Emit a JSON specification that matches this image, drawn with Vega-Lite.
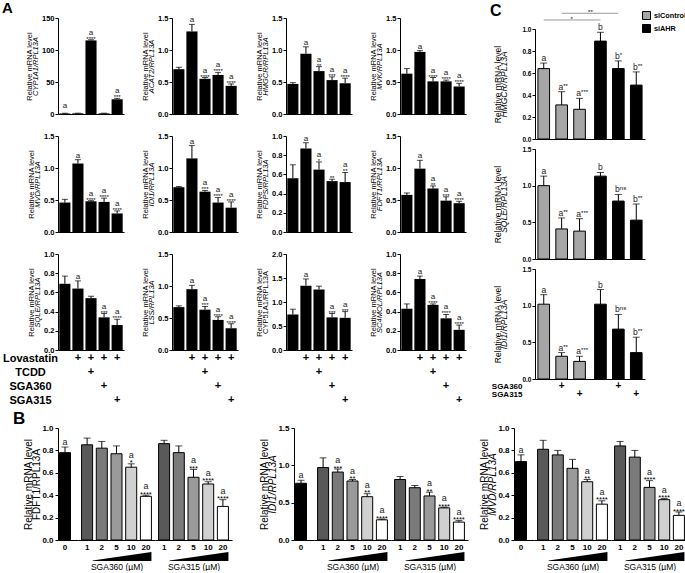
{
"$schema":"https://vega.github.io/schema/vega-lite/v6.json",
"autosize":{"type":"pad"},
"padding":{"left":2,"top":1,"right":0,"bottom":0},
"background":"white",
"config":{
 "font":"Liberation Sans",
 "view":{"stroke":null},
 "axis":{"grid":false,"domainColor":"#000","tickColor":"#000","labelColor":"#000","titleColor":"#000","labelFontWeight":"bold","titleFontWeight":"normal","tickSize":3,"labelPadding":1,"domainWidth":1,"tickWidth":1},
 "tick":{"thickness":1,"color":"#000"},
 "rule":{"color":"#000"},
 "text":{"color":"#000","fill":"#000"},
 "title":{"fontWeight":"bold","anchor":"start","frame":"group","color":"#000"}
},
"resolve":{"scale":{"color":"independent"}},
"spacing":2,
"vconcat":[
{"hconcat":[
 {"concat":[
    {"width":66,"height":96,"title":{"text":"A","fontSize":15,"dx":-56,"offset":-2},
     "data":{"values":[{"k":"c1","v":0.8,"hi":1.2,"l":"a","st":""},{"k":"c2","v":1,"hi":1.3,"l":"","st":""},{"k":"c3","v":115,"hi":116,"l":"a","st":"****"},{"k":"c4","v":1,"hi":1.3,"l":"","st":""},{"k":"c5","v":23,"hi":24.5,"l":"a","st":"***"}]},
     "encoding":{"x":{"field":"k","type":"nominal","scale":{"type":"band","domain":["c1","c2","c3","c4","c5"],"paddingInner":0.15,"paddingOuter":0.1},"axis":{"labels":false,"ticks":false,"title":null}}},
     "layer":[
      {"mark":{"type":"bar","color":"#000"},"encoding":{"y":{"field":"v","type":"quantitative","scale":{"domain":[0,150],"nice":false},"axis":{"orient":"left","title":"Relative mRNA level","values":[0,50,100,150],"format":"d","labelFontSize":7.5,"titleFontSize":7.5,"titlePadding":8}}}},
      {"mark":"rule","encoding":{"y":{"field":"v","type":"quantitative","axis":{"orient":"left","title":"CYP1A1/RPL13A","values":[0,50,100,150],"format":"d","labelFontSize":7.5,"labelColor":"transparent","tickColor":"transparent","domain":false,"titleFontSize":7.5,"titleFontStyle":"italic","titlePadding":2}},"y2":{"field":"hi"}}},
      {"mark":{"type":"tick","size":6},"encoding":{"y":{"field":"hi","type":"quantitative","axis":null}}},
      {"transform":[{"filter":"datum.st != ''"}],"mark":{"type":"text","color":"#000","fontSize":6,"baseline":"alphabetic","dy":1},"encoding":{"y":{"field":"hi","type":"quantitative","axis":null},"text":{"field":"st"}}},
      {"transform":[{"filter":"datum.l != '' && datum.st != ''"}],"mark":{"type":"text","color":"#222","fontSize":8,"baseline":"alphabetic","dy":-5},"encoding":{"y":{"field":"hi","type":"quantitative","axis":null},"text":{"field":"l"}}},
      {"transform":[{"filter":"datum.l != '' && datum.st == ''"}],"mark":{"type":"text","color":"#222","fontSize":8,"baseline":"alphabetic","dy":-5},"encoding":{"y":{"field":"hi","type":"quantitative","axis":null},"text":{"field":"l"}}}
     ],"resolve":{"axis":{"y":"independent"}}},
    {"width":66,"height":96,
     "data":{"values":[{"k":"c1","v":0.70,"hi":0.73,"l":"","st":""},{"k":"c2","v":1.29,"hi":1.40,"l":"a","st":""},{"k":"c3","v":0.55,"hi":0.57,"l":"a","st":"****"},{"k":"c4","v":0.61,"hi":0.65,"l":"a","st":"****"},{"k":"c5","v":0.44,"hi":0.47,"l":"a","st":"****"}]},
     "encoding":{"x":{"field":"k","type":"nominal","scale":{"type":"band","domain":["c1","c2","c3","c4","c5"],"paddingInner":0.15,"paddingOuter":0.1},"axis":{"labels":false,"ticks":false,"title":null}}},
     "layer":[
      {"mark":{"type":"bar","color":"#000"},"encoding":{"y":{"field":"v","type":"quantitative","scale":{"domain":[0,1.5],"nice":false},"axis":{"orient":"left","title":"Relative mRNA level","values":[0,0.5,1,1.5],"format":".1f","labelFontSize":7.5,"titleFontSize":7.5,"titlePadding":8}}}},
      {"mark":"rule","encoding":{"y":{"field":"v","type":"quantitative","axis":{"orient":"left","title":"ACAT2/RPL13A","values":[0,0.5,1,1.5],"format":".1f","labelFontSize":7.5,"labelColor":"transparent","tickColor":"transparent","domain":false,"titleFontSize":7.5,"titleFontStyle":"italic","titlePadding":2}},"y2":{"field":"hi"}}},
      {"mark":{"type":"tick","size":6},"encoding":{"y":{"field":"hi","type":"quantitative","axis":null}}},
      {"transform":[{"filter":"datum.st != ''"}],"mark":{"type":"text","color":"#000","fontSize":6,"baseline":"alphabetic","dy":1},"encoding":{"y":{"field":"hi","type":"quantitative","axis":null},"text":{"field":"st"}}},
      {"transform":[{"filter":"datum.l != '' && datum.st != ''"}],"mark":{"type":"text","color":"#222","fontSize":8,"baseline":"alphabetic","dy":-5},"encoding":{"y":{"field":"hi","type":"quantitative","axis":null},"text":{"field":"l"}}},
      {"transform":[{"filter":"datum.l != '' && datum.st == ''"}],"mark":{"type":"text","color":"#222","fontSize":8,"baseline":"alphabetic","dy":-2},"encoding":{"y":{"field":"hi","type":"quantitative","axis":null},"text":{"field":"l"}}}
     ],"resolve":{"axis":{"y":"independent"}}},
    {"width":66,"height":96,
     "data":{"values":[{"k":"c1","v":0.47,"hi":0.49,"l":"","st":""},{"k":"c2","v":0.94,"hi":1.05,"l":"a","st":""},{"k":"c3","v":0.67,"hi":0.74,"l":"a","st":"**"},{"k":"c4","v":0.53,"hi":0.58,"l":"a","st":"***"},{"k":"c5","v":0.48,"hi":0.56,"l":"a","st":"****"}]},
     "encoding":{"x":{"field":"k","type":"nominal","scale":{"type":"band","domain":["c1","c2","c3","c4","c5"],"paddingInner":0.15,"paddingOuter":0.1},"axis":{"labels":false,"ticks":false,"title":null}}},
     "layer":[
      {"mark":{"type":"bar","color":"#000"},"encoding":{"y":{"field":"v","type":"quantitative","scale":{"domain":[0,1.5],"nice":false},"axis":{"orient":"left","title":"Relative mRNA level","values":[0,0.5,1,1.5],"format":".1f","labelFontSize":7.5,"titleFontSize":7.5,"titlePadding":8}}}},
      {"mark":"rule","encoding":{"y":{"field":"v","type":"quantitative","axis":{"orient":"left","title":"HMGCR/RPL13A","values":[0,0.5,1,1.5],"format":".1f","labelFontSize":7.5,"labelColor":"transparent","tickColor":"transparent","domain":false,"titleFontSize":7.5,"titleFontStyle":"italic","titlePadding":2}},"y2":{"field":"hi"}}},
      {"mark":{"type":"tick","size":6},"encoding":{"y":{"field":"hi","type":"quantitative","axis":null}}},
      {"transform":[{"filter":"datum.st != ''"}],"mark":{"type":"text","color":"#000","fontSize":6,"baseline":"alphabetic","dy":1},"encoding":{"y":{"field":"hi","type":"quantitative","axis":null},"text":{"field":"st"}}},
      {"transform":[{"filter":"datum.l != '' && datum.st != ''"}],"mark":{"type":"text","color":"#222","fontSize":8,"baseline":"alphabetic","dy":-5},"encoding":{"y":{"field":"hi","type":"quantitative","axis":null},"text":{"field":"l"}}},
      {"transform":[{"filter":"datum.l != '' && datum.st == ''"}],"mark":{"type":"text","color":"#222","fontSize":8,"baseline":"alphabetic","dy":-2},"encoding":{"y":{"field":"hi","type":"quantitative","axis":null},"text":{"field":"l"}}}
     ],"resolve":{"axis":{"y":"independent"}}},
    {"width":66,"height":96,
     "data":{"values":[{"k":"c1","v":0.63,"hi":0.71,"l":"","st":""},{"k":"c2","v":0.97,"hi":0.99,"l":"a","st":""},{"k":"c3","v":0.51,"hi":0.57,"l":"a","st":"****"},{"k":"c4","v":0.51,"hi":0.53,"l":"a","st":"****"},{"k":"c5","v":0.43,"hi":0.48,"l":"a","st":"****"}]},
     "encoding":{"x":{"field":"k","type":"nominal","scale":{"type":"band","domain":["c1","c2","c3","c4","c5"],"paddingInner":0.15,"paddingOuter":0.1},"axis":{"labels":false,"ticks":false,"title":null}}},
     "layer":[
      {"mark":{"type":"bar","color":"#000"},"encoding":{"y":{"field":"v","type":"quantitative","scale":{"domain":[0,1.5],"nice":false},"axis":{"orient":"left","title":"Relative mRNA level","values":[0,0.5,1,1.5],"format":".1f","labelFontSize":7.5,"titleFontSize":7.5,"titlePadding":8}}}},
      {"mark":"rule","encoding":{"y":{"field":"v","type":"quantitative","axis":{"orient":"left","title":"MVK/RPL13A","values":[0,0.5,1,1.5],"format":".1f","labelFontSize":7.5,"labelColor":"transparent","tickColor":"transparent","domain":false,"titleFontSize":7.5,"titleFontStyle":"italic","titlePadding":2}},"y2":{"field":"hi"}}},
      {"mark":{"type":"tick","size":6},"encoding":{"y":{"field":"hi","type":"quantitative","axis":null}}},
      {"transform":[{"filter":"datum.st != ''"}],"mark":{"type":"text","color":"#000","fontSize":6,"baseline":"alphabetic","dy":1},"encoding":{"y":{"field":"hi","type":"quantitative","axis":null},"text":{"field":"st"}}},
      {"transform":[{"filter":"datum.l != '' && datum.st != ''"}],"mark":{"type":"text","color":"#222","fontSize":8,"baseline":"alphabetic","dy":-5},"encoding":{"y":{"field":"hi","type":"quantitative","axis":null},"text":{"field":"l"}}},
      {"transform":[{"filter":"datum.l != '' && datum.st == ''"}],"mark":{"type":"text","color":"#222","fontSize":8,"baseline":"alphabetic","dy":-2},"encoding":{"y":{"field":"hi","type":"quantitative","axis":null},"text":{"field":"l"}}}
     ],"resolve":{"axis":{"y":"independent"}}},
    {"width":66,"height":20,"data":{"values":[]},"mark":"point"},
    {"width":66,"height":20,"data":{"values":[]},"mark":"point"},
    {"width":66,"height":20,"data":{"values":[]},"mark":"point"},
    {"width":66,"height":20,"data":{"values":[]},"mark":"point"},
    {"width":66,"height":96,
     "data":{"values":[{"k":"c1","v":0.46,"hi":0.51,"l":"","st":""},{"k":"c2","v":1.07,"hi":1.13,"l":"a","st":""},{"k":"c3","v":0.48,"hi":0.49,"l":"a","st":"****"},{"k":"c4","v":0.47,"hi":0.53,"l":"a","st":"****"},{"k":"c5","v":0.29,"hi":0.33,"l":"a","st":"****"}]},
     "encoding":{"x":{"field":"k","type":"nominal","scale":{"type":"band","domain":["c1","c2","c3","c4","c5"],"paddingInner":0.15,"paddingOuter":0.1},"axis":{"labels":false,"ticks":false,"title":null}}},
     "layer":[
      {"mark":{"type":"bar","color":"#000"},"encoding":{"y":{"field":"v","type":"quantitative","scale":{"domain":[0,1.5],"nice":false},"axis":{"orient":"left","title":"Relative mRNA level","values":[0,0.5,1,1.5],"format":".1f","labelFontSize":7.5,"titleFontSize":7.5,"titlePadding":8}}}},
      {"mark":"rule","encoding":{"y":{"field":"v","type":"quantitative","axis":{"orient":"left","title":"MVD/RPL13A","values":[0,0.5,1,1.5],"format":".1f","labelFontSize":7.5,"labelColor":"transparent","tickColor":"transparent","domain":false,"titleFontSize":7.5,"titleFontStyle":"italic","titlePadding":2}},"y2":{"field":"hi"}}},
      {"mark":{"type":"tick","size":6},"encoding":{"y":{"field":"hi","type":"quantitative","axis":null}}},
      {"transform":[{"filter":"datum.st != ''"}],"mark":{"type":"text","color":"#000","fontSize":6,"baseline":"alphabetic","dy":1},"encoding":{"y":{"field":"hi","type":"quantitative","axis":null},"text":{"field":"st"}}},
      {"transform":[{"filter":"datum.l != '' && datum.st != ''"}],"mark":{"type":"text","color":"#222","fontSize":8,"baseline":"alphabetic","dy":-5},"encoding":{"y":{"field":"hi","type":"quantitative","axis":null},"text":{"field":"l"}}},
      {"transform":[{"filter":"datum.l != '' && datum.st == ''"}],"mark":{"type":"text","color":"#222","fontSize":8,"baseline":"alphabetic","dy":-2},"encoding":{"y":{"field":"hi","type":"quantitative","axis":null},"text":{"field":"l"}}}
     ],"resolve":{"axis":{"y":"independent"}}},
    {"width":66,"height":96,
     "data":{"values":[{"k":"c1","v":0.70,"hi":0.71,"l":"","st":""},{"k":"c2","v":1.15,"hi":1.35,"l":"a","st":""},{"k":"c3","v":0.63,"hi":0.65,"l":"a","st":"***"},{"k":"c4","v":0.46,"hi":0.54,"l":"a","st":"****"},{"k":"c5","v":0.38,"hi":0.47,"l":"a","st":"****"}]},
     "encoding":{"x":{"field":"k","type":"nominal","scale":{"type":"band","domain":["c1","c2","c3","c4","c5"],"paddingInner":0.15,"paddingOuter":0.1},"axis":{"labels":false,"ticks":false,"title":null}}},
     "layer":[
      {"mark":{"type":"bar","color":"#000"},"encoding":{"y":{"field":"v","type":"quantitative","scale":{"domain":[0,1.5],"nice":false},"axis":{"orient":"left","title":"Relative mRNA level","values":[0,0.5,1,1.5],"format":".1f","labelFontSize":7.5,"titleFontSize":7.5,"titlePadding":8}}}},
      {"mark":"rule","encoding":{"y":{"field":"v","type":"quantitative","axis":{"orient":"left","title":"IDI1/RPL13A","values":[0,0.5,1,1.5],"format":".1f","labelFontSize":7.5,"labelColor":"transparent","tickColor":"transparent","domain":false,"titleFontSize":7.5,"titleFontStyle":"italic","titlePadding":2}},"y2":{"field":"hi"}}},
      {"mark":{"type":"tick","size":6},"encoding":{"y":{"field":"hi","type":"quantitative","axis":null}}},
      {"transform":[{"filter":"datum.st != ''"}],"mark":{"type":"text","color":"#000","fontSize":6,"baseline":"alphabetic","dy":1},"encoding":{"y":{"field":"hi","type":"quantitative","axis":null},"text":{"field":"st"}}},
      {"transform":[{"filter":"datum.l != '' && datum.st != ''"}],"mark":{"type":"text","color":"#222","fontSize":8,"baseline":"alphabetic","dy":-5},"encoding":{"y":{"field":"hi","type":"quantitative","axis":null},"text":{"field":"l"}}},
      {"transform":[{"filter":"datum.l != '' && datum.st == ''"}],"mark":{"type":"text","color":"#222","fontSize":8,"baseline":"alphabetic","dy":-2},"encoding":{"y":{"field":"hi","type":"quantitative","axis":null},"text":{"field":"l"}}}
     ],"resolve":{"axis":{"y":"independent"}}},
    {"width":66,"height":96,
     "data":{"values":[{"k":"c1","v":0.56,"hi":0.70,"l":"","st":""},{"k":"c2","v":0.87,"hi":0.93,"l":"a","st":""},{"k":"c3","v":0.65,"hi":0.73,"l":"a","st":"*"},{"k":"c4","v":0.53,"hi":0.55,"l":"","st":"**"},{"k":"c5","v":0.52,"hi":0.62,"l":"a","st":"**"}]},
     "encoding":{"x":{"field":"k","type":"nominal","scale":{"type":"band","domain":["c1","c2","c3","c4","c5"],"paddingInner":0.15,"paddingOuter":0.1},"axis":{"labels":false,"ticks":false,"title":null}}},
     "layer":[
      {"mark":{"type":"bar","color":"#000"},"encoding":{"y":{"field":"v","type":"quantitative","scale":{"domain":[0,1],"nice":false},"axis":{"orient":"left","title":"Relative mRNA level","values":[0,0.2,0.4,0.6,0.8,1],"format":".1f","labelFontSize":7.5,"titleFontSize":7.5,"titlePadding":8}}}},
      {"mark":"rule","encoding":{"y":{"field":"v","type":"quantitative","axis":{"orient":"left","title":"FDPS/RPL13A","values":[0,0.2,0.4,0.6,0.8,1],"format":".1f","labelFontSize":7.5,"labelColor":"transparent","tickColor":"transparent","domain":false,"titleFontSize":7.5,"titleFontStyle":"italic","titlePadding":2}},"y2":{"field":"hi"}}},
      {"mark":{"type":"tick","size":6},"encoding":{"y":{"field":"hi","type":"quantitative","axis":null}}},
      {"transform":[{"filter":"datum.st != ''"}],"mark":{"type":"text","color":"#000","fontSize":6,"baseline":"alphabetic","dy":1},"encoding":{"y":{"field":"hi","type":"quantitative","axis":null},"text":{"field":"st"}}},
      {"transform":[{"filter":"datum.l != '' && datum.st != ''"}],"mark":{"type":"text","color":"#222","fontSize":8,"baseline":"alphabetic","dy":-5},"encoding":{"y":{"field":"hi","type":"quantitative","axis":null},"text":{"field":"l"}}},
      {"transform":[{"filter":"datum.l != '' && datum.st == ''"}],"mark":{"type":"text","color":"#222","fontSize":8,"baseline":"alphabetic","dy":-2},"encoding":{"y":{"field":"hi","type":"quantitative","axis":null},"text":{"field":"l"}}}
     ],"resolve":{"axis":{"y":"independent"}}},
    {"width":66,"height":96,
     "data":{"values":[{"k":"c1","v":0.58,"hi":0.61,"l":"","st":""},{"k":"c2","v":0.99,"hi":1.12,"l":"a","st":""},{"k":"c3","v":0.68,"hi":0.72,"l":"a","st":"**"},{"k":"c4","v":0.49,"hi":0.55,"l":"a","st":"***"},{"k":"c5","v":0.45,"hi":0.48,"l":"a","st":"****"}]},
     "encoding":{"x":{"field":"k","type":"nominal","scale":{"type":"band","domain":["c1","c2","c3","c4","c5"],"paddingInner":0.15,"paddingOuter":0.1},"axis":{"labels":false,"ticks":false,"title":null}}},
     "layer":[
      {"mark":{"type":"bar","color":"#000"},"encoding":{"y":{"field":"v","type":"quantitative","scale":{"domain":[0,1.5],"nice":false},"axis":{"orient":"left","title":"Relative mRNA level","values":[0,0.5,1,1.5],"format":".1f","labelFontSize":7.5,"titleFontSize":7.5,"titlePadding":8}}}},
      {"mark":"rule","encoding":{"y":{"field":"v","type":"quantitative","axis":{"orient":"left","title":"FDFT1/RPL13A","values":[0,0.5,1,1.5],"format":".1f","labelFontSize":7.5,"labelColor":"transparent","tickColor":"transparent","domain":false,"titleFontSize":7.5,"titleFontStyle":"italic","titlePadding":2}},"y2":{"field":"hi"}}},
      {"mark":{"type":"tick","size":6},"encoding":{"y":{"field":"hi","type":"quantitative","axis":null}}},
      {"transform":[{"filter":"datum.st != ''"}],"mark":{"type":"text","color":"#000","fontSize":6,"baseline":"alphabetic","dy":1},"encoding":{"y":{"field":"hi","type":"quantitative","axis":null},"text":{"field":"st"}}},
      {"transform":[{"filter":"datum.l != '' && datum.st != ''"}],"mark":{"type":"text","color":"#222","fontSize":8,"baseline":"alphabetic","dy":-5},"encoding":{"y":{"field":"hi","type":"quantitative","axis":null},"text":{"field":"l"}}},
      {"transform":[{"filter":"datum.l != '' && datum.st == ''"}],"mark":{"type":"text","color":"#222","fontSize":8,"baseline":"alphabetic","dy":-2},"encoding":{"y":{"field":"hi","type":"quantitative","axis":null},"text":{"field":"l"}}}
     ],"resolve":{"axis":{"y":"independent"}}},
    {"width":66,"height":20,"data":{"values":[]},"mark":"point"},
    {"width":66,"height":20,"data":{"values":[]},"mark":"point"},
    {"width":66,"height":20,"data":{"values":[]},"mark":"point"},
    {"width":66,"height":20,"data":{"values":[]},"mark":"point"},
     {"width":66,"height":96,
      "data":{"values":[{"k":"c1","v":0.69,"hi":0.77,"l":"","st":""},{"k":"c2","v":0.64,"hi":0.72,"l":"a","st":""},{"k":"c3","v":0.54,"hi":0.56,"l":"","st":""},{"k":"c4","v":0.34,"hi":0.38,"l":"a","st":"***"},{"k":"c5","v":0.26,"hi":0.32,"l":"a","st":"****"}]},
      "encoding":{"x":{"field":"k","type":"nominal","scale":{"type":"band","domain":["c1","c2","c3","c4","c5"],"paddingInner":0.15,"paddingOuter":0.1},"axis":{"labels":false,"ticks":false,"title":null}}},
      "layer":[
       {"mark":{"type":"bar","color":"#000"},"encoding":{"y":{"field":"v","type":"quantitative","scale":{"domain":[0,1],"nice":false},"axis":{"orient":"left","title":"Relative mRNA level","values":[0,0.2,0.4,0.6,0.8,1],"format":".1f","labelFontSize":7.5,"titleFontSize":7.5,"titlePadding":8}}}},
       {"mark":"rule","encoding":{"y":{"field":"v","type":"quantitative","axis":{"orient":"left","title":"SQLE/RPL13A","values":[0,0.2,0.4,0.6,0.8,1],"format":".1f","labelFontSize":7.5,"labelColor":"transparent","tickColor":"transparent","domain":false,"titleFontSize":7.5,"titleFontStyle":"italic","titlePadding":2}},"y2":{"field":"hi"}}},
       {"mark":{"type":"tick","size":6},"encoding":{"y":{"field":"hi","type":"quantitative","axis":null}}},
       {"transform":[{"filter":"datum.st != ''"}],"mark":{"type":"text","color":"#000","fontSize":6,"baseline":"alphabetic","dy":1},"encoding":{"y":{"field":"hi","type":"quantitative","axis":null},"text":{"field":"st"}}},
       {"transform":[{"filter":"datum.l != '' && datum.st != ''"}],"mark":{"type":"text","color":"#222","fontSize":8,"baseline":"alphabetic","dy":-5},"encoding":{"y":{"field":"hi","type":"quantitative","axis":null},"text":{"field":"l"}}},
       {"transform":[{"filter":"datum.l != '' && datum.st == ''"}],"mark":{"type":"text","color":"#222","fontSize":8,"baseline":"alphabetic","dy":-2},"encoding":{"y":{"field":"hi","type":"quantitative","axis":null},"text":{"field":"l"}}}
      ],"resolve":{"axis":{"y":"independent"}}},
     {"width":66,"height":96,
      "data":{"values":[{"k":"c1","v":0.67,"hi":0.69,"l":"","st":""},{"k":"c2","v":0.95,"hi":1.01,"l":"a","st":""},{"k":"c3","v":0.63,"hi":0.68,"l":"a","st":"***"},{"k":"c4","v":0.47,"hi":0.52,"l":"a","st":"****"},{"k":"c5","v":0.34,"hi":0.41,"l":"a","st":"****"}]},
      "encoding":{"x":{"field":"k","type":"nominal","scale":{"type":"band","domain":["c1","c2","c3","c4","c5"],"paddingInner":0.15,"paddingOuter":0.1},"axis":{"labels":false,"ticks":false,"title":null}}},
      "layer":[
       {"mark":{"type":"bar","color":"#000"},"encoding":{"y":{"field":"v","type":"quantitative","scale":{"domain":[0,1.5],"nice":false},"axis":{"orient":"left","title":"Relative mRNA level","values":[0,0.5,1,1.5],"format":".1f","labelFontSize":7.5,"titleFontSize":7.5,"titlePadding":8}}}},
       {"mark":"rule","encoding":{"y":{"field":"v","type":"quantitative","axis":{"orient":"left","title":"LSS/RPL13A","values":[0,0.5,1,1.5],"format":".1f","labelFontSize":7.5,"labelColor":"transparent","tickColor":"transparent","domain":false,"titleFontSize":7.5,"titleFontStyle":"italic","titlePadding":2}},"y2":{"field":"hi"}}},
       {"mark":{"type":"tick","size":6},"encoding":{"y":{"field":"hi","type":"quantitative","axis":null}}},
       {"transform":[{"filter":"datum.st != ''"}],"mark":{"type":"text","color":"#000","fontSize":6,"baseline":"alphabetic","dy":1},"encoding":{"y":{"field":"hi","type":"quantitative","axis":null},"text":{"field":"st"}}},
       {"transform":[{"filter":"datum.l != '' && datum.st != ''"}],"mark":{"type":"text","color":"#222","fontSize":8,"baseline":"alphabetic","dy":-5},"encoding":{"y":{"field":"hi","type":"quantitative","axis":null},"text":{"field":"l"}}},
       {"transform":[{"filter":"datum.l != '' && datum.st == ''"}],"mark":{"type":"text","color":"#222","fontSize":8,"baseline":"alphabetic","dy":-2},"encoding":{"y":{"field":"hi","type":"quantitative","axis":null},"text":{"field":"l"}}}
      ],"resolve":{"axis":{"y":"independent"}}},
     {"width":66,"height":96,
      "data":{"values":[{"k":"c1","v":0.74,"hi":0.85,"l":"","st":""},{"k":"c2","v":1.34,"hi":1.48,"l":"a","st":""},{"k":"c3","v":1.26,"hi":1.33,"l":"","st":""},{"k":"c4","v":0.68,"hi":0.76,"l":"a","st":"***"},{"k":"c5","v":0.67,"hi":0.80,"l":"a","st":"***"}]},
      "encoding":{"x":{"field":"k","type":"nominal","scale":{"type":"band","domain":["c1","c2","c3","c4","c5"],"paddingInner":0.15,"paddingOuter":0.1},"axis":{"labels":false,"ticks":false,"title":null}}},
      "layer":[
       {"mark":{"type":"bar","color":"#000"},"encoding":{"y":{"field":"v","type":"quantitative","scale":{"domain":[0,2],"nice":false},"axis":{"orient":"left","title":"Relative mRNA level","values":[0,0.5,1,1.5,2],"format":".1f","labelFontSize":7.5,"titleFontSize":7.5,"titlePadding":8}}}},
       {"mark":"rule","encoding":{"y":{"field":"v","type":"quantitative","axis":{"orient":"left","title":"CYP51A1/RPL13A","values":[0,0.5,1,1.5,2],"format":".1f","labelFontSize":7.5,"labelColor":"transparent","tickColor":"transparent","domain":false,"titleFontSize":7.5,"titleFontStyle":"normal","titlePadding":2}},"y2":{"field":"hi"}}},
       {"mark":{"type":"tick","size":6},"encoding":{"y":{"field":"hi","type":"quantitative","axis":null}}},
       {"transform":[{"filter":"datum.st != ''"}],"mark":{"type":"text","color":"#000","fontSize":6,"baseline":"alphabetic","dy":1},"encoding":{"y":{"field":"hi","type":"quantitative","axis":null},"text":{"field":"st"}}},
       {"transform":[{"filter":"datum.l != '' && datum.st != ''"}],"mark":{"type":"text","color":"#222","fontSize":8,"baseline":"alphabetic","dy":-5},"encoding":{"y":{"field":"hi","type":"quantitative","axis":null},"text":{"field":"l"}}},
       {"transform":[{"filter":"datum.l != '' && datum.st == ''"}],"mark":{"type":"text","color":"#222","fontSize":8,"baseline":"alphabetic","dy":-2},"encoding":{"y":{"field":"hi","type":"quantitative","axis":null},"text":{"field":"l"}}}
      ],"resolve":{"axis":{"y":"independent"}}},
     {"width":66,"height":96,
      "data":{"values":[{"k":"c1","v":0.43,"hi":0.48,"l":"","st":""},{"k":"c2","v":0.74,"hi":0.77,"l":"a","st":""},{"k":"c3","v":0.47,"hi":0.48,"l":"a","st":"****"},{"k":"c4","v":0.33,"hi":0.37,"l":"a","st":"****"},{"k":"c5","v":0.21,"hi":0.26,"l":"a","st":"****"}]},
      "encoding":{"x":{"field":"k","type":"nominal","scale":{"type":"band","domain":["c1","c2","c3","c4","c5"],"paddingInner":0.15,"paddingOuter":0.1},"axis":{"labels":false,"ticks":false,"title":null}}},
      "layer":[
       {"mark":{"type":"bar","color":"#000"},"encoding":{"y":{"field":"v","type":"quantitative","scale":{"domain":[0,1],"nice":false},"axis":{"orient":"left","title":"Relative mRNA level","values":[0,0.2,0.4,0.6,0.8,1],"format":".1f","labelFontSize":7.5,"titleFontSize":7.5,"titlePadding":8}}}},
       {"mark":"rule","encoding":{"y":{"field":"v","type":"quantitative","axis":{"orient":"left","title":"SC4MOL/RPL13A","values":[0,0.2,0.4,0.6,0.8,1],"format":".1f","labelFontSize":7.5,"labelColor":"transparent","tickColor":"transparent","domain":false,"titleFontSize":7.5,"titleFontStyle":"italic","titlePadding":2}},"y2":{"field":"hi"}}},
       {"mark":{"type":"tick","size":6},"encoding":{"y":{"field":"hi","type":"quantitative","axis":null}}},
       {"transform":[{"filter":"datum.st != ''"}],"mark":{"type":"text","color":"#000","fontSize":6,"baseline":"alphabetic","dy":1},"encoding":{"y":{"field":"hi","type":"quantitative","axis":null},"text":{"field":"st"}}},
       {"transform":[{"filter":"datum.l != '' && datum.st != ''"}],"mark":{"type":"text","color":"#222","fontSize":8,"baseline":"alphabetic","dy":-5},"encoding":{"y":{"field":"hi","type":"quantitative","axis":null},"text":{"field":"l"}}},
       {"transform":[{"filter":"datum.l != '' && datum.st == ''"}],"mark":{"type":"text","color":"#222","fontSize":8,"baseline":"alphabetic","dy":-2},"encoding":{"y":{"field":"hi","type":"quantitative","axis":null},"text":{"field":"l"}}}
      ],"resolve":{"axis":{"y":"independent"}}},
     {"width":66,"height":56,"data":{"values":[{"k":"c2","t":"Lovastatin"},{"k":"c3","t":"Lovastatin"},{"k":"c4","t":"Lovastatin"},{"k":"c5","t":"Lovastatin"},{"k":"c3","t":"TCDD"},{"k":"c4","t":"SGA360"},{"k":"c5","t":"SGA315"}]},
      "mark":{"type":"text","text":"+","color":"#000","fontSize":11,"fontWeight":"bold","baseline":"middle"},
      "encoding":{"x":{"field":"k","type":"nominal","scale":{"type":"band","domain":["c1","c2","c3","c4","c5"],"paddingInner":0.15,"paddingOuter":0.1},"axis":null},
       "y":{"field":"t","type":"nominal","scale":{"type":"point","domain":["Lovastatin","TCDD","SGA360","SGA315"],"padding":0.5},"axis":{"title":null,"domain":false,"ticks":false,"labelFontSize":11,"labelAlign":"center","labelPadding":28}}}},
     {"width":66,"height":56,"data":{"values":[{"k":"c2","t":"Lovastatin"},{"k":"c3","t":"Lovastatin"},{"k":"c4","t":"Lovastatin"},{"k":"c5","t":"Lovastatin"},{"k":"c3","t":"TCDD"},{"k":"c4","t":"SGA360"},{"k":"c5","t":"SGA315"}]},
      "mark":{"type":"text","text":"+","color":"#000","fontSize":11,"fontWeight":"bold","baseline":"middle"},
      "encoding":{"x":{"field":"k","type":"nominal","scale":{"type":"band","domain":["c1","c2","c3","c4","c5"],"paddingInner":0.15,"paddingOuter":0.1},"axis":null},
       "y":{"field":"t","type":"nominal","scale":{"type":"point","domain":["Lovastatin","TCDD","SGA360","SGA315"],"padding":0.5},"axis":null}}},
     {"width":66,"height":56,"data":{"values":[{"k":"c2","t":"Lovastatin"},{"k":"c3","t":"Lovastatin"},{"k":"c4","t":"Lovastatin"},{"k":"c5","t":"Lovastatin"},{"k":"c3","t":"TCDD"},{"k":"c4","t":"SGA360"},{"k":"c5","t":"SGA315"}]},
      "mark":{"type":"text","text":"+","color":"#000","fontSize":11,"fontWeight":"bold","baseline":"middle"},
      "encoding":{"x":{"field":"k","type":"nominal","scale":{"type":"band","domain":["c1","c2","c3","c4","c5"],"paddingInner":0.15,"paddingOuter":0.1},"axis":null},
       "y":{"field":"t","type":"nominal","scale":{"type":"point","domain":["Lovastatin","TCDD","SGA360","SGA315"],"padding":0.5},"axis":null}}},
     {"width":66,"height":56,"data":{"values":[{"k":"c2","t":"Lovastatin"},{"k":"c3","t":"Lovastatin"},{"k":"c4","t":"Lovastatin"},{"k":"c5","t":"Lovastatin"},{"k":"c3","t":"TCDD"},{"k":"c4","t":"SGA360"},{"k":"c5","t":"SGA315"}]},
      "mark":{"type":"text","text":"+","color":"#000","fontSize":11,"fontWeight":"bold","baseline":"middle"},
      "encoding":{"x":{"field":"k","type":"nominal","scale":{"type":"band","domain":["c1","c2","c3","c4","c5"],"paddingInner":0.15,"paddingOuter":0.1},"axis":null},
       "y":{"field":"t","type":"nominal","scale":{"type":"point","domain":["Lovastatin","TCDD","SGA360","SGA315"],"padding":0.5},"axis":null}}}
 ],"columns":4,"align":"each","spacing":{"row":1,"column":48},"bounds":"flush"},
 {"concat":[
   {"width":110,"height":8,"title":{"text":"C","fontSize":16,"dx":-45,"offset":-0.5},"data":{"values":[]},"mark":"point"},
   {"width":110,"height":110,
    "data":{"values":[{"si":"siControl","trt":"none","v":0.64,"hi":0.69,"l":"a","st":""},{"si":"siControl","trt":"SGA360","v":0.31,"hi":0.43,"l":"a","st":"**"},{"si":"siControl","trt":"SGA315","v":0.27,"hi":0.37,"l":"a","st":"***"},{"si":"siAHR","trt":"none","v":0.89,"hi":0.97,"l":"b","st":""},{"si":"siAHR","trt":"SGA360","v":0.64,"hi":0.71,"l":"b","st":"*"},{"si":"siAHR","trt":"SGA315","v":0.49,"hi":0.61,"l":"b","st":"**"}]},
    "encoding":{"x":{"field":"si","type":"nominal","scale":{"type":"band","domain":["siControl","siAHR"],"paddingInner":0.1,"paddingOuter":0.02},"axis":{"labels":false,"ticks":false,"title":null}},
     "xOffset":{"field":"trt","type":"nominal","scale":{"type":"band","domain":["none","SGA360","SGA315"],"paddingInner":0.35,"paddingOuter":0.1}}},
    "layer":[
     {"mark":{"type":"bar","stroke":"#000","strokeWidth":1},"encoding":{"y":{"field":"v","type":"quantitative","scale":{"domain":[0,1],"nice":false},"axis":{"orient":"left","title":"Relative mRNA level","values":[0,0.2,0.4,0.6,0.8,1],"format":".1f","labelFontSize":6.5,"titleFontSize":8.5,"titlePadding":19}},
      "color":{"field":"si","type":"nominal","scale":{"domain":["siControl","siAHR"],"range":["#a6a6a6","#000000"]},"legend":{"title":null,"orient":"none","legendX":107,"legendY":-18,"symbolType":"square","symbolSize":64,"symbolStrokeColor":"#000","symbolStrokeWidth":1,"labelFontSize":7.3,"labelFontWeight":"bold","labelColor":"#000","rowPadding":0,"padding":0,"labelOffset":3}}}},
     {"mark":"rule","encoding":{"y":{"field":"v","type":"quantitative","axis":{"orient":"left","title":"HMGCR/RPL13A","values":[0,0.2,0.4,0.6,0.8,1],"format":".1f","labelFontSize":6.5,"labelColor":"transparent","tickColor":"transparent","domain":false,"titleFontSize":8.5,"titleFontStyle":"italic","titlePadding":13}},"y2":{"field":"hi"}}},
     {"mark":{"type":"tick","size":7},"encoding":{"y":{"field":"hi","type":"quantitative","axis":null}}},
     {"transform":[{"filter":"datum.st == ''"}],"mark":{"type":"text","color":"#222","fontSize":8.5,"baseline":"alphabetic","dy":-2},"encoding":{"y":{"field":"hi","type":"quantitative","axis":null},"text":{"field":"l"}}},
     {"transform":[{"filter":"datum.st != ''"}],"mark":{"type":"text","color":"#222","fontSize":8.5,"baseline":"alphabetic","align":"right","dx":1.5,"dy":-2},"encoding":{"y":{"field":"hi","type":"quantitative","axis":null},"text":{"field":"l"}}},
     {"transform":[{"filter":"datum.st != ''"}],"mark":{"type":"text","color":"#000","fontSize":6,"baseline":"alphabetic","align":"left","dx":1.5,"dy":-4},"encoding":{"y":{"field":"hi","type":"quantitative","axis":null},"text":{"field":"st"}}},
     {"data":{"values":[{"si":"siControl","trt":"none"},{"si":"siAHR","trt":"none"}]},"mark":{"type":"line","color":"#9a9a9a","strokeWidth":1},"encoding":{"y":{"datum":1.082,"type":"quantitative","axis":null}}},
     {"data":{"values":[{"si":"siControl","trt":"SGA360"},{"si":"siAHR","trt":"SGA360"}]},"mark":{"type":"line","color":"#9a9a9a","strokeWidth":1},"encoding":{"y":{"datum":1.143,"type":"quantitative","axis":null}}},
     {"data":{"values":[{"si":"siControl","trt":"SGA315","s":"*"}]},"mark":{"type":"text","color":"#000","fontSize":6,"baseline":"alphabetic","dx":-8,"dy":1},"encoding":{"y":{"datum":1.082,"type":"quantitative","axis":null},"text":{"field":"s"}}},
     {"data":{"values":[{"si":"siAHR","trt":"none","s":"**"}]},"mark":{"type":"text","color":"#000","fontSize":6,"baseline":"alphabetic","dx":-10,"dy":1},"encoding":{"y":{"datum":1.143,"type":"quantitative","axis":null},"text":{"field":"s"}}}
    ],"resolve":{"axis":{"y":"independent"}}},
   {"width":110,"height":4,"data":{"values":[]},"mark":"point"},
   {"width":110,"height":110,
    "data":{"values":[{"si":"siControl","trt":"none","v":1.0,"hi":1.13,"l":"a","st":""},{"si":"siControl","trt":"SGA360","v":0.41,"hi":0.56,"l":"a","st":"**"},{"si":"siControl","trt":"SGA315","v":0.38,"hi":0.55,"l":"a","st":"***"},{"si":"siAHR","trt":"none","v":1.13,"hi":1.18,"l":"b","st":""},{"si":"siAHR","trt":"SGA360","v":0.79,"hi":0.88,"l":"b","st":"ns"},{"si":"siAHR","trt":"SGA315","v":0.53,"hi":0.75,"l":"b","st":"**"}]},
    "encoding":{"x":{"field":"si","type":"nominal","scale":{"type":"band","domain":["siControl","siAHR"],"paddingInner":0.1,"paddingOuter":0.02},"axis":{"labels":false,"ticks":false,"title":null}},
     "xOffset":{"field":"trt","type":"nominal","scale":{"type":"band","domain":["none","SGA360","SGA315"],"paddingInner":0.35,"paddingOuter":0.1}}},
    "layer":[
     {"mark":{"type":"bar","stroke":"#000","strokeWidth":1},"encoding":{"y":{"field":"v","type":"quantitative","scale":{"domain":[0,1.5],"nice":false},"axis":{"orient":"left","title":"Relative mRNA level","values":[0,0.5,1,1.5],"format":".1f","labelFontSize":6.5,"titleFontSize":8.5,"titlePadding":19}},
      "color":{"field":"si","type":"nominal","scale":{"domain":["siControl","siAHR"],"range":["#a6a6a6","#000000"]},"legend":null}}},
     {"mark":"rule","encoding":{"y":{"field":"v","type":"quantitative","axis":{"orient":"left","title":"SQLE/RPL13A","values":[0,0.5,1,1.5],"format":".1f","labelFontSize":6.5,"labelColor":"transparent","tickColor":"transparent","domain":false,"titleFontSize":8.5,"titleFontStyle":"italic","titlePadding":13}},"y2":{"field":"hi"}}},
     {"mark":{"type":"tick","size":7},"encoding":{"y":{"field":"hi","type":"quantitative","axis":null}}},
     {"transform":[{"filter":"datum.st == ''"}],"mark":{"type":"text","color":"#222","fontSize":8.5,"baseline":"alphabetic","dy":-2},"encoding":{"y":{"field":"hi","type":"quantitative","axis":null},"text":{"field":"l"}}},
     {"transform":[{"filter":"datum.st != ''"}],"mark":{"type":"text","color":"#222","fontSize":8.5,"baseline":"alphabetic","align":"right","dx":1.5,"dy":-2},"encoding":{"y":{"field":"hi","type":"quantitative","axis":null},"text":{"field":"l"}}},
     {"transform":[{"filter":"datum.st != ''"}],"mark":{"type":"text","color":"#000","fontSize":6,"baseline":"alphabetic","align":"left","dx":1.5,"dy":-4},"encoding":{"y":{"field":"hi","type":"quantitative","axis":null},"text":{"field":"st"}}}
    ],"resolve":{"axis":{"y":"independent"}}},
   {"width":110,"height":4,"data":{"values":[]},"mark":"point"},
   {"width":110,"height":110,
     "data":{"values":[{"si":"siControl","trt":"none","v":1.02,"hi":1.15,"l":"a","st":""},{"si":"siControl","trt":"SGA360","v":0.31,"hi":0.36,"l":"a","st":"**"},{"si":"siControl","trt":"SGA315","v":0.24,"hi":0.31,"l":"a","st":"***"},{"si":"siAHR","trt":"none","v":1.02,"hi":1.22,"l":"b","st":""},{"si":"siAHR","trt":"SGA360","v":0.68,"hi":0.88,"l":"b","st":"ns"},{"si":"siAHR","trt":"SGA315","v":0.36,"hi":0.57,"l":"b","st":"**"}]},
     "encoding":{"x":{"field":"si","type":"nominal","scale":{"type":"band","domain":["siControl","siAHR"],"paddingInner":0.1,"paddingOuter":0.02},"axis":{"labels":false,"ticks":false,"title":null}},
      "xOffset":{"field":"trt","type":"nominal","scale":{"type":"band","domain":["none","SGA360","SGA315"],"paddingInner":0.35,"paddingOuter":0.1}}},
     "layer":[
      {"mark":{"type":"bar","stroke":"#000","strokeWidth":1},"encoding":{"y":{"field":"v","type":"quantitative","scale":{"domain":[0,1.5],"nice":false},"axis":{"orient":"left","title":"Relative mRNA level","values":[0,0.5,1,1.5],"format":".1f","labelFontSize":6.5,"titleFontSize":8.5,"titlePadding":19}},
       "color":{"field":"si","type":"nominal","scale":{"domain":["siControl","siAHR"],"range":["#a6a6a6","#000000"]},"legend":null}}},
      {"mark":"rule","encoding":{"y":{"field":"v","type":"quantitative","axis":{"orient":"left","title":"IDI1/RPL13A","values":[0,0.5,1,1.5],"format":".1f","labelFontSize":6.5,"labelColor":"transparent","tickColor":"transparent","domain":false,"titleFontSize":8.5,"titleFontStyle":"italic","titlePadding":13}},"y2":{"field":"hi"}}},
      {"mark":{"type":"tick","size":7},"encoding":{"y":{"field":"hi","type":"quantitative","axis":null}}},
      {"transform":[{"filter":"datum.st == ''"}],"mark":{"type":"text","color":"#222","fontSize":8.5,"baseline":"alphabetic","dy":-2},"encoding":{"y":{"field":"hi","type":"quantitative","axis":null},"text":{"field":"l"}}},
      {"transform":[{"filter":"datum.st != ''"}],"mark":{"type":"text","color":"#222","fontSize":8.5,"baseline":"alphabetic","align":"right","dx":1.5,"dy":-2},"encoding":{"y":{"field":"hi","type":"quantitative","axis":null},"text":{"field":"l"}}},
      {"transform":[{"filter":"datum.st != ''"}],"mark":{"type":"text","color":"#000","fontSize":6,"baseline":"alphabetic","align":"left","dx":1.5,"dy":-4},"encoding":{"y":{"field":"hi","type":"quantitative","axis":null},"text":{"field":"st"}}}
     ],"resolve":{"axis":{"y":"independent"}}},
    {"width":110,"height":16,
     "data":{"values":[{"si":"siControl","trt":"SGA360"},{"si":"siControl","trt":"SGA315"},{"si":"siAHR","trt":"SGA360"},{"si":"siAHR","trt":"SGA315"}]},
     "mark":{"type":"text","text":"+","color":"#000","fontSize":10,"fontWeight":"bold","baseline":"middle"},
     "encoding":{"x":{"field":"si","type":"nominal","scale":{"type":"band","domain":["siControl","siAHR"],"paddingInner":0.1,"paddingOuter":0.02},"axis":null},
      "xOffset":{"field":"trt","type":"nominal","scale":{"type":"band","domain":["none","SGA360","SGA315"],"paddingInner":0.35,"paddingOuter":0.1}},
      "y":{"field":"trt","type":"nominal","scale":{"type":"point","domain":["SGA360","SGA315"],"padding":0.5},"axis":{"title":null,"domain":false,"ticks":false,"labelFontSize":8,"labelPadding":13}}}}
 ],"columns":1,"align":"each","spacing":3,"bounds":"flush","resolve":{"scale":{"color":"independent"}}}
],"spacing":24},
{"concat":[
  {"width":20,"height":112,"title":{"text":"B","fontSize":17,"dx":-45,"offset":-3.7},
   "data":{"values":[{"d":"0","v":0.78,"hi":0.83,"l":"a","st":""}]},
   "encoding":{"x":{"field":"d","type":"nominal","scale":{"type":"band","domain":["0"],"paddingInner":0.25,"paddingOuter":0.307,"align":0.167},"axis":{"title":null,"ticks":false,"labelAngle":0,"labelFontSize":8,"labelPadding":3}}},
   "layer":[
    {"mark":{"type":"bar","stroke":"#000"},"encoding":{"y":{"field":"v","type":"quantitative","scale":{"domain":[0,1],"nice":false},"axis":{"orient":"left","title":"Relative mRNA level","values":[0,0.2,0.4,0.6,0.8,1],"format":".1f","labelFontSize":8,"labelPadding":2,"titleFontSize":10,"titlePadding":8}},"color":{"field":"d","type":"nominal","scale":{"domain":["0","1","2","5","10","20"],"range":["#000000","#595959","#7a7a7a","#9a9a9a","#d0d0d0","#ffffff"]},"legend":null}}},
    {"mark":"rule","encoding":{"y":{"field":"v","type":"quantitative","axis":{"orient":"left","title":"FDFT1/RPL13A","values":[0,0.2,0.4,0.6,0.8,1],"format":".1f","labelFontSize":8,"labelPadding":2,"labelColor":"transparent","tickColor":"transparent","domain":false,"titleFontSize":10,"titlePadding":0}},"y2":{"field":"hi"}}},
    {"mark":{"type":"tick","size":7},"encoding":{"y":{"field":"hi","type":"quantitative","axis":null}}},
    {"transform":[{"filter":"datum.st != ''"}],"mark":{"type":"text","color":"#000","fontSize":7.5,"baseline":"alphabetic","dy":1.5},"encoding":{"y":{"field":"hi","type":"quantitative","axis":null},"text":{"field":"st"}}},
    {"transform":[{"filter":"datum.l != '' && datum.st != ''"}],"mark":{"type":"text","color":"#222","fontSize":9,"baseline":"alphabetic","dy":-6},"encoding":{"y":{"field":"hi","type":"quantitative","axis":null},"text":{"field":"l"}}},
    {"transform":[{"filter":"datum.l != '' && datum.st == ''"}],"mark":{"type":"text","color":"#222","fontSize":9,"baseline":"alphabetic","dy":-2},"encoding":{"y":{"field":"hi","type":"quantitative","axis":null},"text":{"field":"l"}}}
   ],"resolve":{"axis":{"y":"independent"}}},
  {"width":77,"height":112,
    "data":{"values":[{"d":"1","v":0.85,"hi":0.91,"l":"","st":""},{"d":"2","v":0.82,"hi":0.88,"l":"","st":""},{"d":"5","v":0.77,"hi":0.84,"l":"","st":""},{"d":"10","v":0.65,"hi":0.68,"l":"a","st":"*"},{"d":"20","v":0.39,"hi":0.40,"l":"a","st":"****"}]},
    "encoding":{"x":{"field":"d","type":"nominal","scale":{"type":"band","domain":["1","2","5","10","20"],"paddingInner":0.25,"paddingOuter":0.244},"axis":{"title":null,"ticks":false,"labelAngle":0,"labelFontSize":8,"labelPadding":3}}},
    "layer":[
     {"mark":{"type":"bar","stroke":"#000"},"encoding":{"y":{"field":"v","type":"quantitative","scale":{"domain":[0,1],"nice":false},"axis":null},"color":{"field":"d","type":"nominal","scale":{"domain":["0","1","2","5","10","20"],"range":["#000000","#595959","#7a7a7a","#9a9a9a","#d0d0d0","#ffffff"]},"legend":null}}},
     {"mark":"rule","encoding":{"y":{"field":"v","type":"quantitative","axis":null},"y2":{"field":"hi"}}},
     {"mark":{"type":"tick","size":7},"encoding":{"y":{"field":"hi","type":"quantitative","axis":null}}},
     {"transform":[{"filter":"datum.st != ''"}],"mark":{"type":"text","color":"#000","fontSize":7.5,"baseline":"alphabetic","dy":1.5},"encoding":{"y":{"field":"hi","type":"quantitative","axis":null},"text":{"field":"st"}}},
     {"transform":[{"filter":"datum.l != '' && datum.st != ''"}],"mark":{"type":"text","color":"#222","fontSize":9,"baseline":"alphabetic","dy":-6},"encoding":{"y":{"field":"hi","type":"quantitative","axis":null},"text":{"field":"l"}}}
    ]},
  {"width":77,"height":112,
    "data":{"values":[{"d":"1","v":0.86,"hi":0.89,"l":"","st":""},{"d":"2","v":0.78,"hi":0.84,"l":"","st":""},{"d":"5","v":0.56,"hi":0.63,"l":"a","st":"***"},{"d":"10","v":0.50,"hi":0.52,"l":"a","st":"****"},{"d":"20","v":0.30,"hi":0.36,"l":"a","st":"****"}]},
    "encoding":{"x":{"field":"d","type":"nominal","scale":{"type":"band","domain":["1","2","5","10","20"],"paddingInner":0.25,"paddingOuter":0.244},"axis":{"title":null,"ticks":false,"labelAngle":0,"labelFontSize":8,"labelPadding":3}}},
    "layer":[
     {"mark":{"type":"bar","stroke":"#000"},"encoding":{"y":{"field":"v","type":"quantitative","scale":{"domain":[0,1],"nice":false},"axis":null},"color":{"field":"d","type":"nominal","scale":{"domain":["0","1","2","5","10","20"],"range":["#000000","#595959","#7a7a7a","#9a9a9a","#d0d0d0","#ffffff"]},"legend":null}}},
     {"mark":"rule","encoding":{"y":{"field":"v","type":"quantitative","axis":null},"y2":{"field":"hi"}}},
     {"mark":{"type":"tick","size":7},"encoding":{"y":{"field":"hi","type":"quantitative","axis":null}}},
     {"transform":[{"filter":"datum.st != ''"}],"mark":{"type":"text","color":"#000","fontSize":7.5,"baseline":"alphabetic","dy":1.5},"encoding":{"y":{"field":"hi","type":"quantitative","axis":null},"text":{"field":"st"}}},
     {"transform":[{"filter":"datum.l != '' && datum.st != ''"}],"mark":{"type":"text","color":"#222","fontSize":9,"baseline":"alphabetic","dy":-6},"encoding":{"y":{"field":"hi","type":"quantitative","axis":null},"text":{"field":"l"}}}
    ]},
  {"width":62,"height":1,"data":{"values":[]},"mark":"point"},
  {"width":20,"height":112,
    "data":{"values":[{"d":"0","v":0.76,"hi":0.80,"l":"a","st":""}]},
    "encoding":{"x":{"field":"d","type":"nominal","scale":{"type":"band","domain":["0"],"paddingInner":0.25,"paddingOuter":0.307,"align":0.167},"axis":{"title":null,"ticks":false,"labelAngle":0,"labelFontSize":8,"labelPadding":3}}},
    "layer":[
     {"mark":{"type":"bar","stroke":"#000"},"encoding":{"y":{"field":"v","type":"quantitative","scale":{"domain":[0,1.5],"nice":false},"axis":{"orient":"left","title":"Relative mRNA level","values":[0,0.5,1,1.5],"format":".1f","labelFontSize":8,"labelPadding":2,"titleFontSize":10,"titlePadding":8}},"color":{"field":"d","type":"nominal","scale":{"domain":["0","1","2","5","10","20"],"range":["#000000","#595959","#7a7a7a","#9a9a9a","#d0d0d0","#ffffff"]},"legend":null}}},
     {"mark":"rule","encoding":{"y":{"field":"v","type":"quantitative","axis":{"orient":"left","title":"IDI1/RPL13A","values":[0,0.5,1,1.5],"format":".1f","labelFontSize":8,"labelPadding":2,"labelColor":"transparent","tickColor":"transparent","domain":false,"titleFontSize":10,"titleFontStyle":"italic","titlePadding":0}},"y2":{"field":"hi"}}},
     {"mark":{"type":"tick","size":7},"encoding":{"y":{"field":"hi","type":"quantitative","axis":null}}},
     {"transform":[{"filter":"datum.st != ''"}],"mark":{"type":"text","color":"#000","fontSize":7.5,"baseline":"alphabetic","dy":1.5},"encoding":{"y":{"field":"hi","type":"quantitative","axis":null},"text":{"field":"st"}}},
     {"transform":[{"filter":"datum.l != '' && datum.st != ''"}],"mark":{"type":"text","color":"#222","fontSize":9,"baseline":"alphabetic","dy":-6},"encoding":{"y":{"field":"hi","type":"quantitative","axis":null},"text":{"field":"l"}}},
     {"transform":[{"filter":"datum.l != '' && datum.st == ''"}],"mark":{"type":"text","color":"#222","fontSize":9,"baseline":"alphabetic","dy":-2},"encoding":{"y":{"field":"hi","type":"quantitative","axis":null},"text":{"field":"l"}}}
    ],"resolve":{"axis":{"y":"independent"}}},
  {"width":77,"height":112,
     "data":{"values":[{"d":"1","v":0.97,"hi":1.10,"l":"","st":""},{"d":"2","v":0.91,"hi":0.95,"l":"a","st":"***"},{"d":"5","v":0.79,"hi":0.81,"l":"a","st":"**"},{"d":"10","v":0.58,"hi":0.62,"l":"a","st":"**"},{"d":"20","v":0.27,"hi":0.28,"l":"a","st":"****"}]},
     "encoding":{"x":{"field":"d","type":"nominal","scale":{"type":"band","domain":["1","2","5","10","20"],"paddingInner":0.25,"paddingOuter":0.244},"axis":{"title":null,"ticks":false,"labelAngle":0,"labelFontSize":8,"labelPadding":3}}},
     "layer":[
      {"mark":{"type":"bar","stroke":"#000"},"encoding":{"y":{"field":"v","type":"quantitative","scale":{"domain":[0,1.5],"nice":false},"axis":null},"color":{"field":"d","type":"nominal","scale":{"domain":["0","1","2","5","10","20"],"range":["#000000","#595959","#7a7a7a","#9a9a9a","#d0d0d0","#ffffff"]},"legend":null}}},
      {"mark":"rule","encoding":{"y":{"field":"v","type":"quantitative","axis":null},"y2":{"field":"hi"}}},
      {"mark":{"type":"tick","size":7},"encoding":{"y":{"field":"hi","type":"quantitative","axis":null}}},
      {"transform":[{"filter":"datum.st != ''"}],"mark":{"type":"text","color":"#000","fontSize":7.5,"baseline":"alphabetic","dy":1.5},"encoding":{"y":{"field":"hi","type":"quantitative","axis":null},"text":{"field":"st"}}},
      {"transform":[{"filter":"datum.l != '' && datum.st != ''"}],"mark":{"type":"text","color":"#222","fontSize":9,"baseline":"alphabetic","dy":-6},"encoding":{"y":{"field":"hi","type":"quantitative","axis":null},"text":{"field":"l"}}}
     ]},
  {"width":77,"height":112,
     "data":{"values":[{"d":"1","v":0.81,"hi":0.85,"l":"","st":""},{"d":"2","v":0.70,"hi":0.73,"l":"","st":""},{"d":"5","v":0.59,"hi":0.64,"l":"a","st":"**"},{"d":"10","v":0.43,"hi":0.44,"l":"a","st":"****"},{"d":"20","v":0.24,"hi":0.26,"l":"a","st":"****"}]},
     "encoding":{"x":{"field":"d","type":"nominal","scale":{"type":"band","domain":["1","2","5","10","20"],"paddingInner":0.25,"paddingOuter":0.244},"axis":{"title":null,"ticks":false,"labelAngle":0,"labelFontSize":8,"labelPadding":3}}},
     "layer":[
      {"mark":{"type":"bar","stroke":"#000"},"encoding":{"y":{"field":"v","type":"quantitative","scale":{"domain":[0,1.5],"nice":false},"axis":null},"color":{"field":"d","type":"nominal","scale":{"domain":["0","1","2","5","10","20"],"range":["#000000","#595959","#7a7a7a","#9a9a9a","#d0d0d0","#ffffff"]},"legend":null}}},
      {"mark":"rule","encoding":{"y":{"field":"v","type":"quantitative","axis":null},"y2":{"field":"hi"}}},
      {"mark":{"type":"tick","size":7},"encoding":{"y":{"field":"hi","type":"quantitative","axis":null}}},
      {"transform":[{"filter":"datum.st != ''"}],"mark":{"type":"text","color":"#000","fontSize":7.5,"baseline":"alphabetic","dy":1.5},"encoding":{"y":{"field":"hi","type":"quantitative","axis":null},"text":{"field":"st"}}},
      {"transform":[{"filter":"datum.l != '' && datum.st != ''"}],"mark":{"type":"text","color":"#222","fontSize":9,"baseline":"alphabetic","dy":-6},"encoding":{"y":{"field":"hi","type":"quantitative","axis":null},"text":{"field":"l"}}}
     ]},
  {"width":46,"height":1,"data":{"values":[]},"mark":"point"},
  {"width":20,"height":112,
    "data":{"values":[{"d":"0","v":0.70,"hi":0.76,"l":"a","st":""}]},
    "encoding":{"x":{"field":"d","type":"nominal","scale":{"type":"band","domain":["0"],"paddingInner":0.25,"paddingOuter":0.307,"align":0.167},"axis":{"title":null,"ticks":false,"labelAngle":0,"labelFontSize":8,"labelPadding":3}}},
    "layer":[
     {"mark":{"type":"bar","stroke":"#000"},"encoding":{"y":{"field":"v","type":"quantitative","scale":{"domain":[0,1],"nice":false},"axis":{"orient":"left","title":"Relative mRNA level","values":[0,0.2,0.4,0.6,0.8,1],"format":".1f","labelFontSize":8,"labelPadding":2,"titleFontSize":10,"titlePadding":8}},"color":{"field":"d","type":"nominal","scale":{"domain":["0","1","2","5","10","20"],"range":["#000000","#595959","#7a7a7a","#9a9a9a","#d0d0d0","#ffffff"]},"legend":null}}},
     {"mark":"rule","encoding":{"y":{"field":"v","type":"quantitative","axis":{"orient":"left","title":"MVD/RPL13A","values":[0,0.2,0.4,0.6,0.8,1],"format":".1f","labelFontSize":8,"labelPadding":2,"labelColor":"transparent","tickColor":"transparent","domain":false,"titleFontSize":10,"titleFontStyle":"italic","titlePadding":0}},"y2":{"field":"hi"}}},
     {"mark":{"type":"tick","size":7},"encoding":{"y":{"field":"hi","type":"quantitative","axis":null}}},
     {"transform":[{"filter":"datum.st != ''"}],"mark":{"type":"text","color":"#000","fontSize":7.5,"baseline":"alphabetic","dy":1.5},"encoding":{"y":{"field":"hi","type":"quantitative","axis":null},"text":{"field":"st"}}},
     {"transform":[{"filter":"datum.l != '' && datum.st != ''"}],"mark":{"type":"text","color":"#222","fontSize":9,"baseline":"alphabetic","dy":-6},"encoding":{"y":{"field":"hi","type":"quantitative","axis":null},"text":{"field":"l"}}},
     {"transform":[{"filter":"datum.l != '' && datum.st == ''"}],"mark":{"type":"text","color":"#222","fontSize":9,"baseline":"alphabetic","dy":-2},"encoding":{"y":{"field":"hi","type":"quantitative","axis":null},"text":{"field":"l"}}}
    ],"resolve":{"axis":{"y":"independent"}}},
  {"width":77,"height":112,
     "data":{"values":[{"d":"1","v":0.81,"hi":0.89,"l":"","st":""},{"d":"2","v":0.76,"hi":0.80,"l":"","st":""},{"d":"5","v":0.64,"hi":0.72,"l":"","st":""},{"d":"10","v":0.52,"hi":0.54,"l":"a","st":"**"},{"d":"20","v":0.32,"hi":0.35,"l":"a","st":"****"}]},
     "encoding":{"x":{"field":"d","type":"nominal","scale":{"type":"band","domain":["1","2","5","10","20"],"paddingInner":0.25,"paddingOuter":0.244},"axis":{"title":null,"ticks":false,"labelAngle":0,"labelFontSize":8,"labelPadding":3}}},
     "layer":[
      {"mark":{"type":"bar","stroke":"#000"},"encoding":{"y":{"field":"v","type":"quantitative","scale":{"domain":[0,1],"nice":false},"axis":null},"color":{"field":"d","type":"nominal","scale":{"domain":["0","1","2","5","10","20"],"range":["#000000","#595959","#7a7a7a","#9a9a9a","#d0d0d0","#ffffff"]},"legend":null}}},
      {"mark":"rule","encoding":{"y":{"field":"v","type":"quantitative","axis":null},"y2":{"field":"hi"}}},
      {"mark":{"type":"tick","size":7},"encoding":{"y":{"field":"hi","type":"quantitative","axis":null}}},
      {"transform":[{"filter":"datum.st != ''"}],"mark":{"type":"text","color":"#000","fontSize":7.5,"baseline":"alphabetic","dy":1.5},"encoding":{"y":{"field":"hi","type":"quantitative","axis":null},"text":{"field":"st"}}},
      {"transform":[{"filter":"datum.l != '' && datum.st != ''"}],"mark":{"type":"text","color":"#222","fontSize":9,"baseline":"alphabetic","dy":-6},"encoding":{"y":{"field":"hi","type":"quantitative","axis":null},"text":{"field":"l"}}}
     ]},
  {"width":77,"height":112,
     "data":{"values":[{"d":"1","v":0.84,"hi":0.88,"l":"","st":""},{"d":"2","v":0.74,"hi":0.80,"l":"","st":""},{"d":"5","v":0.47,"hi":0.53,"l":"a","st":"****"},{"d":"10","v":0.36,"hi":0.37,"l":"a","st":"****"},{"d":"20","v":0.22,"hi":0.25,"l":"a","st":"****"}]},
     "encoding":{"x":{"field":"d","type":"nominal","scale":{"type":"band","domain":["1","2","5","10","20"],"paddingInner":0.25,"paddingOuter":0.244},"axis":{"title":null,"ticks":false,"labelAngle":0,"labelFontSize":8,"labelPadding":3}}},
     "layer":[
      {"mark":{"type":"bar","stroke":"#000"},"encoding":{"y":{"field":"v","type":"quantitative","scale":{"domain":[0,1],"nice":false},"axis":null},"color":{"field":"d","type":"nominal","scale":{"domain":["0","1","2","5","10","20"],"range":["#000000","#595959","#7a7a7a","#9a9a9a","#d0d0d0","#ffffff"]},"legend":null}}},
      {"mark":"rule","encoding":{"y":{"field":"v","type":"quantitative","axis":null},"y2":{"field":"hi"}}},
      {"mark":{"type":"tick","size":7},"encoding":{"y":{"field":"hi","type":"quantitative","axis":null}}},
      {"transform":[{"filter":"datum.st != ''"}],"mark":{"type":"text","color":"#000","fontSize":7.5,"baseline":"alphabetic","dy":1.5},"encoding":{"y":{"field":"hi","type":"quantitative","axis":null},"text":{"field":"st"}}},
      {"transform":[{"filter":"datum.l != '' && datum.st != ''"}],"mark":{"type":"text","color":"#222","fontSize":9,"baseline":"alphabetic","dy":-6},"encoding":{"y":{"field":"hi","type":"quantitative","axis":null},"text":{"field":"l"}}}
     ]},
  {"width":1,"height":1,"data":{"values":[]},"mark":"point"},
  {"width":77,"height":9,"data":{"values":[{"d":"1","dose":1},{"d":"20","dose":20}]},"mark":{"type":"area","color":"#000"},
    "encoding":{"x":{"field":"d","type":"nominal","bandPosition":1,"scale":{"type":"band","domain":["1","2","5","10","20"],"paddingInner":0.25,"paddingOuter":0.244},"axis":{"labels":false,"ticks":false,"domain":false,"title":"SGA360 (µM)","titleFontSize":8.5,"titlePadding":1}},
     "y":{"field":"dose","type":"quantitative","scale":{"domain":[0,20],"nice":false},"axis":null},"y2":{"datum":0}}},
  {"width":77,"height":9,"data":{"values":[{"d":"1","dose":1},{"d":"20","dose":20}]},"mark":{"type":"area","color":"#000"},
    "encoding":{"x":{"field":"d","type":"nominal","bandPosition":1,"scale":{"type":"band","domain":["1","2","5","10","20"],"paddingInner":0.25,"paddingOuter":0.244},"axis":{"labels":false,"ticks":false,"domain":false,"title":"SGA315 (µM)","titleFontSize":8.5,"titlePadding":1}},
     "y":{"field":"dose","type":"quantitative","scale":{"domain":[0,20],"nice":false},"axis":null},"y2":{"datum":0}}},
  {"width":1,"height":1,"data":{"values":[]},"mark":"point"},
  {"width":1,"height":1,"data":{"values":[]},"mark":"point"},
  {"width":77,"height":9,"data":{"values":[{"d":"1","dose":1},{"d":"20","dose":20}]},"mark":{"type":"area","color":"#000"},
    "encoding":{"x":{"field":"d","type":"nominal","bandPosition":1,"scale":{"type":"band","domain":["1","2","5","10","20"],"paddingInner":0.25,"paddingOuter":0.244},"axis":{"labels":false,"ticks":false,"domain":false,"title":"SGA360 (µM)","titleFontSize":8.5,"titlePadding":1}},
     "y":{"field":"dose","type":"quantitative","scale":{"domain":[0,20],"nice":false},"axis":null},"y2":{"datum":0}}},
  {"width":77,"height":9,"data":{"values":[{"d":"1","dose":1},{"d":"20","dose":20}]},"mark":{"type":"area","color":"#000"},
    "encoding":{"x":{"field":"d","type":"nominal","bandPosition":1,"scale":{"type":"band","domain":["1","2","5","10","20"],"paddingInner":0.25,"paddingOuter":0.244},"axis":{"labels":false,"ticks":false,"domain":false,"title":"SGA315 (µM)","titleFontSize":8.5,"titlePadding":1}},
     "y":{"field":"dose","type":"quantitative","scale":{"domain":[0,20],"nice":false},"axis":null},"y2":{"datum":0}}},
  {"width":1,"height":1,"data":{"values":[]},"mark":"point"},
  {"width":1,"height":1,"data":{"values":[]},"mark":"point"},
  {"width":77,"height":9,"data":{"values":[{"d":"1","dose":1},{"d":"20","dose":20}]},"mark":{"type":"area","color":"#000"},
    "encoding":{"x":{"field":"d","type":"nominal","bandPosition":1,"scale":{"type":"band","domain":["1","2","5","10","20"],"paddingInner":0.25,"paddingOuter":0.244},"axis":{"labels":false,"ticks":false,"domain":false,"title":"SGA360 (µM)","titleFontSize":8.5,"titlePadding":1}},
     "y":{"field":"dose","type":"quantitative","scale":{"domain":[0,20],"nice":false},"axis":null},"y2":{"datum":0}}},
  {"width":77,"height":9,"data":{"values":[{"d":"1","dose":1},{"d":"20","dose":20}]},"mark":{"type":"area","color":"#000"},
    "encoding":{"x":{"field":"d","type":"nominal","bandPosition":1,"scale":{"type":"band","domain":["1","2","5","10","20"],"paddingInner":0.25,"paddingOuter":0.244},"axis":{"labels":false,"ticks":false,"domain":false,"title":"SGA315 (µM)","titleFontSize":8.5,"titlePadding":1}},
     "y":{"field":"dose","type":"quantitative","scale":{"domain":[0,20],"nice":false},"axis":null},"y2":{"datum":0}}}
],"columns":11,"align":"each","spacing":{"row":12,"column":0},"bounds":"flush"}
]
}
